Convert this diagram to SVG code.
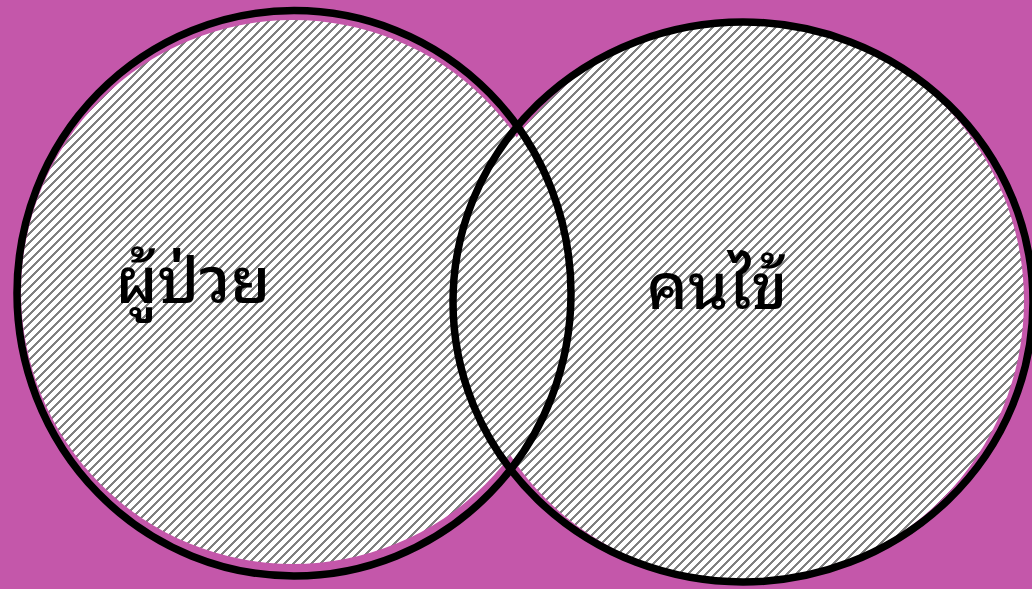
<svg xmlns="http://www.w3.org/2000/svg" width="1032" height="589" viewBox="0 0 1032 589">
<style>
.hatch{fill:url(#diag);}
.ring{fill:none;stroke:#000;stroke-width:7.5;}
.lbl{font-family:"Noto Sans Thai Looped","Loma","Garuda","Noto Sans Thai","Noto Sans","DejaVu Sans",sans-serif;font-size:64px;font-weight:500;fill:#000;text-anchor:middle;}
</style>
<defs>
<pattern id="diag" patternUnits="userSpaceOnUse" width="9" height="9">
<rect width="9" height="9" fill="#fff"/>
<path d="M0,0 L3.6,0 L0,3.6 Z M9,0 L9,0 L0,9 L0,12.6 L12.6,0 Z" fill="#808080" shape-rendering="crispEdges"/>
</pattern>
</defs>
<rect width="1032" height="589" fill="#C457AA"/>
<g id="set-left-fill"><circle class="hatch" cx="293" cy="292" r="272"/></g>
<g id="set-right-fill"><circle class="hatch" cx="744" cy="301" r="280"/></g>
<g id="connectors"></g>
<g id="set-left">
<ellipse class="ring" cx="294" cy="293.3" rx="277" ry="282.7"/>
<text class="lbl" x="193" y="303">ผู้ป่วย</text>
</g>
<g id="set-right">
<ellipse class="ring" cx="743" cy="302" rx="290" ry="280"/>
<text class="lbl" x="717" y="309">คนไข้</text>
</g>
</svg>
